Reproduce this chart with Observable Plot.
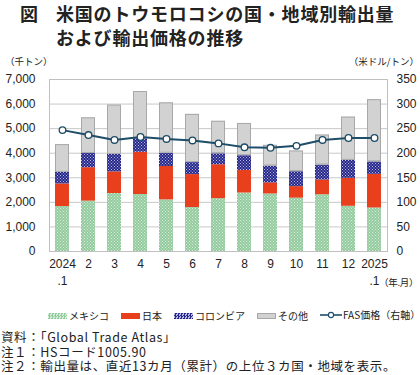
<!DOCTYPE html>
<html><head><meta charset="utf-8">
<script src="https://cdn.jsdelivr.net/npm/d3@7"></script>
<script src="https://cdn.jsdelivr.net/npm/@observablehq/plot@0.6"></script>
<style>
body{margin:0;background:#fff;font-family:"Noto Sans CJK JP",sans-serif;color:#222;}
#wrap{position:relative;width:420px;height:375px;overflow:hidden;}
.abs{position:absolute;white-space:nowrap;}
#chart{position:absolute;left:0;top:58px;}
.lg{display:inline-flex;align-items:center;margin-right:12px;}
.sw{display:inline-block;width:19px;height:6px;margin-right:2px;}
</style></head><body>
<div id="wrap">
  <div class="abs" style="left:20px;top:1px;font-size:18px;font-weight:bold;line-height:24px;">図</div>
  <div class="abs" style="left:56px;top:1px;font-size:18px;font-weight:bold;line-height:24px;letter-spacing:0.8px;">米国のトウモロコシの国・地域別輸出量<br>および輸出価格の推移</div>
  <div class="abs" style="left:5px;top:55px;font-size:9.5px;line-height:12px;">（千トン）</div>
  <div class="abs" style="right:1px;top:55px;font-size:9.5px;line-height:12px;">（米ドル/トン）</div>
  <div id="chart"></div>
  <div class="abs" style="left:379px;top:276px;font-size:9.5px;line-height:12px;letter-spacing:-0.3px;">（年.月）</div>
  <div id="legend" class="abs" style="left:48px;top:308px;font-size:10px;line-height:14px;"></div>
  <div class="abs" style="left:1px;top:330px;font-size:12.5px;line-height:14.5px;letter-spacing:0.6px;">資料：「Global Trade Atlas」<br>注１：HSコード1005.90<br>注２：輸出量は、直近13カ月（累計）の上位３カ国・地域を表示。</div>
</div>
<script>
const xLabels = ["2024\n.1","2","3","4","5","6","7","8","9","10","11","12","2025\n.1"];
const seriesNames = ["メキシコ","日本","コロンビア","その他"];
const mexico   = [1830,2050,2360,2320,2100,1790,2150,2380,2340,2170,2310,1840,1770];
const japan    = [ 920,1360, 880,1720,1360,1340,1380, 920, 450, 470, 600,1140,1370];
const colombia = [ 470, 580, 710, 550, 540, 490, 450, 600, 690, 610, 610, 730, 510];
const other    = [1130,1450,2010,1920,2050,1960,1320,1310, 840, 840,1220,1760,2530];
const fasPrice = [ 247, 237, 227, 233, 229, 226, 220, 212, 211, 215, 227, 231, 231];
const leftTicks = [0,1000,2000,3000,4000,5000,6000,7000];

const ratio = 7000/350;
const seriesValues = [mexico, japan, colombia, other];
const rows = [];
xLabels.forEach((m,i)=>{
  let base = 0;
  seriesNames.forEach((s,k)=>{
    const v = seriesValues[k][i];
    rows.push({month:m, series:s, y1:base, y2:base+v});
    base += v;
  });
});
const lineData = xLabels.map((m,i)=>({month:m, v:fasPrice[i]*ratio}));

const fills = ["url(#pMex)","#e8401c","url(#pCol)","#d2d2d2"];
const num = "Liberation Sans, Arial, sans-serif";

const plot = Plot.plot({
  width:420, height:240,
  marginLeft:49, marginRight:33, marginTop:21, marginBottom:47,
  style:{fontFamily:num, fontSize:"12px", color:"#222", background:"transparent"},
  x:{domain:xLabels, paddingInner:0.46, paddingOuter:0.23, label:null},
  y:{domain:[0,7000], label:null},
  color:{domain:seriesNames, range:fills},
  marks:[
    Plot.gridY(leftTicks,{stroke:"#c8c8c8", strokeOpacity:1}),
    Plot.barY(rows,{x:"month", y1:"y1", y2:"y2", fill:"series"}),
    Plot.barY(rows.filter(d=>d.series==="その他"),{x:"month", y1:"y1", y2:"y2", fill:"none", stroke:"#a8a8a8", strokeWidth:1, inset:0.5}),
    Plot.frame({stroke:"#c0c0c0"}),
    Plot.line(lineData,{x:"month", y:"v", stroke:"#1d4d68", strokeWidth:2}),
    Plot.dot(lineData,{x:"month", y:"v", r:3.3, fill:"white", stroke:"#1d4d68", strokeWidth:1.3}),
    Plot.axisY(leftTicks,{anchor:"left", tickSize:0, tickPadding:14, tickFormat:d3.format(","), fontSize:12}),
    Plot.axisY(leftTicks,{anchor:"right", tickSize:0, tickPadding:9, tickFormat:d=>d/ratio, fontSize:12}),
    Plot.axisX({anchor:"bottom", tickSize:0, tickPadding:5, fontSize:12, lineHeight:1.4})
  ]
});
// add patterns
const ns = "http://www.w3.org/2000/svg";
const defs = document.createElementNS(ns,"defs");
defs.innerHTML = `
<pattern id="pMex" width="3" height="3" patternUnits="userSpaceOnUse">
  <rect width="3" height="3" fill="#93cb9f"/>
  <rect width="1" height="1" fill="#d6eddb"/>
  <rect x="1.5" y="1.5" width="1" height="1" fill="#d6eddb"/>
</pattern>
<pattern id="pCol" width="3" height="3" patternUnits="userSpaceOnUse">
  <rect width="3" height="3" fill="#27288c"/>
  <rect width="1" height="1" fill="#b8b8e0"/>
  <rect x="1.5" y="1.5" width="1" height="1" fill="#b8b8e0"/>
</pattern>`;
plot.insertBefore(defs, plot.firstChild);
document.getElementById("chart").appendChild(plot);

// legend
const lg = document.getElementById("legend");
const swStyles = [
  "background:repeating-conic-gradient(#93cb9f 0 25%, #d6eddb 0 50%) 0 0/3px 3px;",
  "background:#e8401c;",
  "background:repeating-conic-gradient(#27288c 0 25%, #b8b8e0 0 50%) 0 0/3px 3px;",
  "background:#d2d2d2;border:1px solid #a8a8a8;box-sizing:border-box;"
];
seriesNames.forEach((s,k)=>{
  const it = document.createElement("span"); it.className="lg";
  it.innerHTML = `<span class="sw" style="${swStyles[k]}"></span>${s}`;
  lg.appendChild(it);
});
const it = document.createElement("span"); it.className="lg";
it.innerHTML = `<svg width="22" height="8" style="margin-right:1px"><line x1="0" y1="4" x2="22" y2="4" stroke="#1d4d68" stroke-width="1.6"/><circle cx="11" cy="4" r="2.6" fill="white" stroke="#1d4d68" stroke-width="1.1"/></svg>FAS価格（右軸）`;
lg.appendChild(it);
</script>
</body></html>
